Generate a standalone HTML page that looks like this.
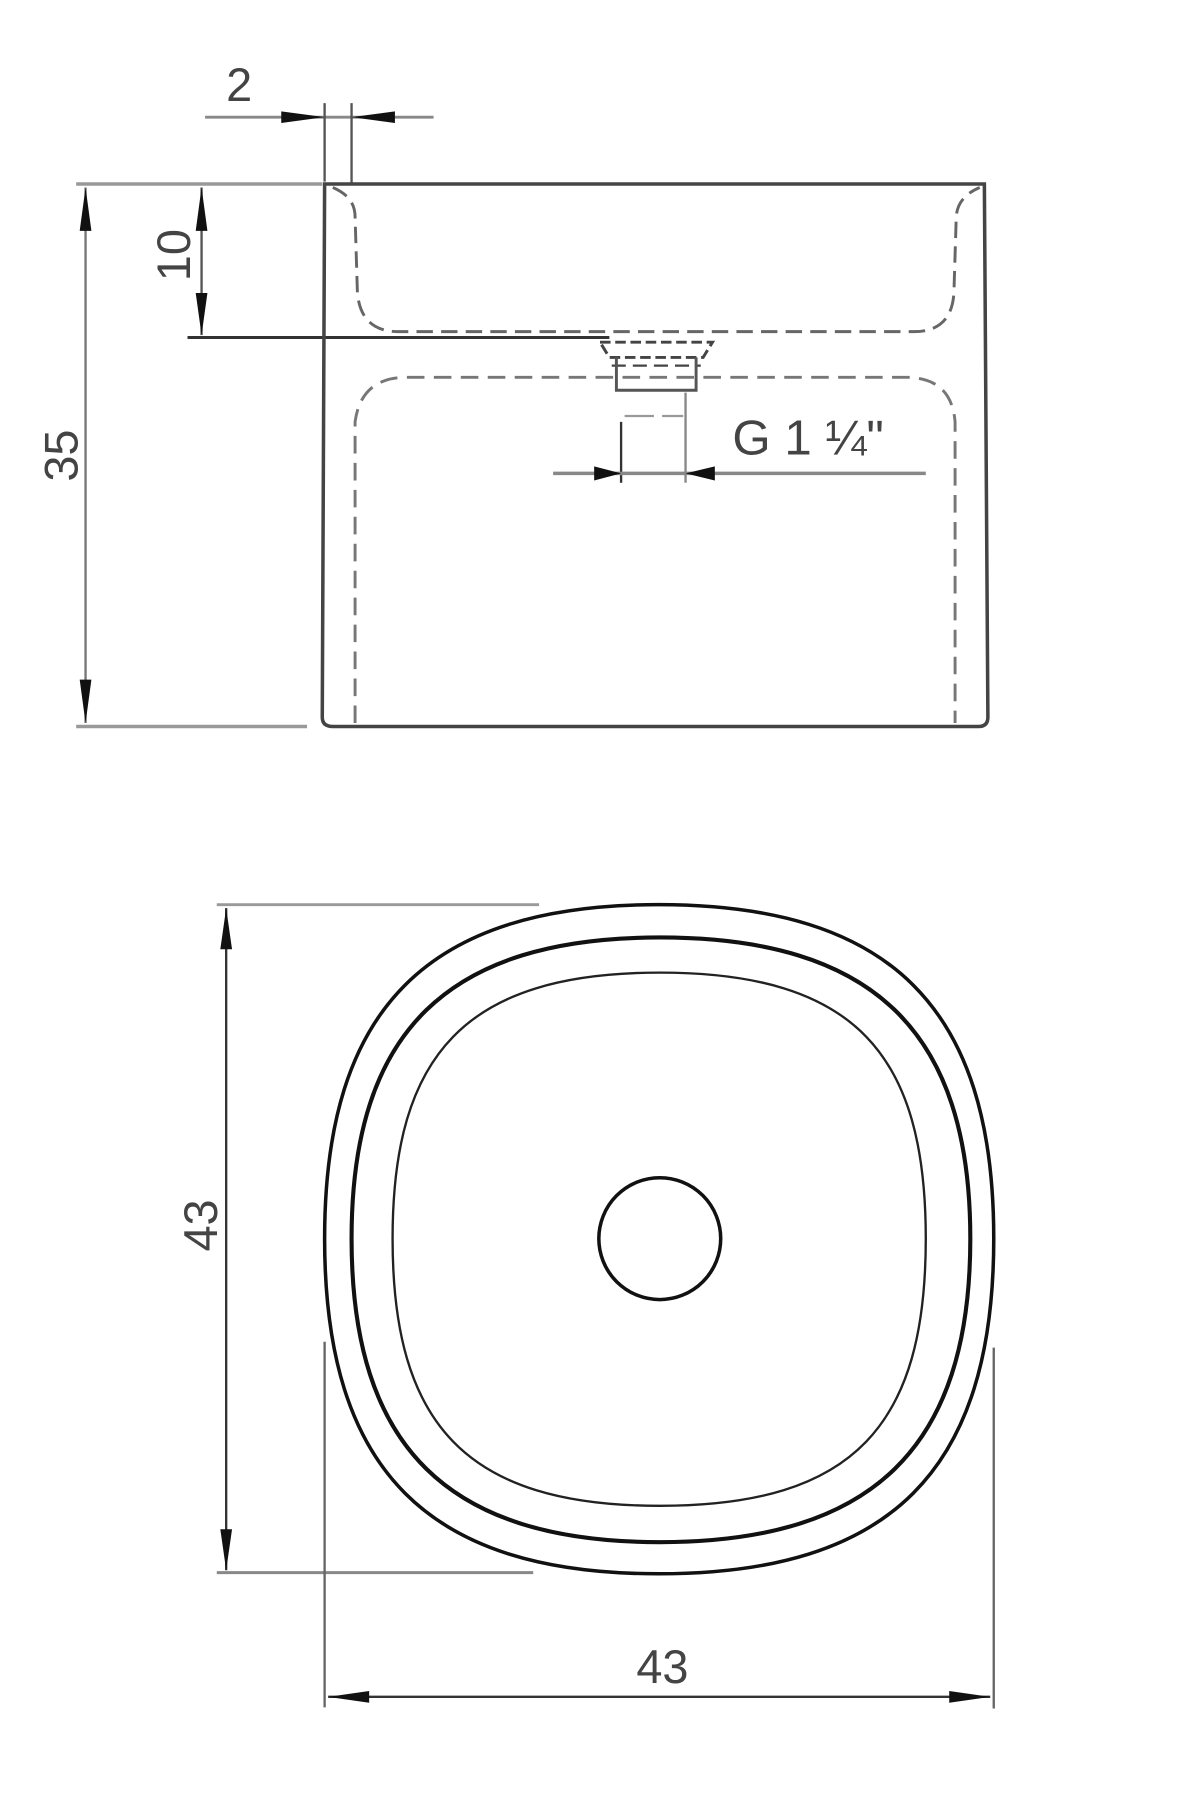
<!DOCTYPE html>
<html><head><style>html,body{margin:0;padding:0;background:#fff}svg{display:block}</style></head>
<body>
<svg width="1200" height="1818" viewBox="0 0 1024 1551.4" preserveAspectRatio="none" xmlns="http://www.w3.org/2000/svg" font-family="Liberation Sans, sans-serif">
<g fill="none" stroke-linecap="butt">
<line x1="175" y1="100" x2="370" y2="100" stroke="#888" stroke-width="2.5"/>
<line x1="277" y1="88" x2="277" y2="155" stroke="#555" stroke-width="2"/>
<line x1="300" y1="88" x2="300" y2="157" stroke="#555" stroke-width="2"/>
<line x1="65" y1="157" x2="275" y2="157" stroke="#999" stroke-width="3"/>
<line x1="65" y1="620" x2="262" y2="620" stroke="#999" stroke-width="3"/>
<line x1="73" y1="160" x2="73" y2="617" stroke="#777" stroke-width="2"/>
<line x1="172" y1="160" x2="172" y2="286" stroke="#555" stroke-width="2"/>
<line x1="160" y1="288" x2="520" y2="288" stroke="#333" stroke-width="2.5"/>
<path d="M277 157 L840 157 L843 612 Q843 620 835 620 L284 620 Q275 620 275 612 Z" stroke="#444" stroke-width="3"/>
<path d="M284 160 Q303 168 303 185 L305 250 Q308 283 340 283 L780 283 Q812 283 814 250 L816 185 Q817 168 836 160" stroke="#666" stroke-width="2.5" stroke-dasharray="14 7"/>
<path d="M512 292 L608 292 L600 305 L520 305 Z" stroke="#444" stroke-width="2.5" stroke-dasharray="9 4"/>
<path d="M522 312 L598 312" stroke="#444" stroke-width="2" stroke-dasharray="12 6"/>
<path d="M526 305 L526 333 L594 333 L594 305" stroke="#555" stroke-width="2.5"/>
<path d="M303 617 L303 360 Q308 323 345 322 L775 322 Q812 323 815 360 L815 617" stroke="#777" stroke-width="2.5" stroke-dasharray="15 8"/>
<line x1="530" y1="360" x2="530" y2="412" stroke="#333" stroke-width="2"/>
<line x1="585" y1="335" x2="585" y2="412" stroke="#888" stroke-width="2"/>
<line x1="533" y1="355" x2="558" y2="355" stroke="#999" stroke-width="2"/>
<line x1="565" y1="355" x2="583" y2="355" stroke="#999" stroke-width="2"/>
<line x1="472" y1="404" x2="790" y2="404" stroke="#888" stroke-width="3"/>
<path d="M562 772 C760 772 848 860 848 1057 C848 1255 760 1343 562 1343 C365 1343 277 1255 277 1057 C277 860 365 772 562 772 Z" stroke="#111" stroke-width="3"/>
<path d="M563 800 C745 800 828 880 828 1057 C828 1235 745 1316 563 1316 C382 1316 300 1235 300 1057 C300 880 382 800 563 800 Z" stroke="#111" stroke-width="3.5"/>
<path d="M563 830 C730 830 790 900 790 1057 C790 1215 730 1285 563 1285 C397 1285 335 1215 335 1057 C335 900 397 830 563 830 Z" stroke="#222" stroke-width="2"/>
<circle cx="563" cy="1057" r="52" stroke="#111" stroke-width="3"/>
<line x1="185" y1="772" x2="460" y2="772" stroke="#999" stroke-width="2.5"/>
<line x1="185" y1="1342" x2="455" y2="1342" stroke="#888" stroke-width="2.5"/>
<line x1="193" y1="775" x2="193" y2="1340" stroke="#333" stroke-width="2"/>
<line x1="277" y1="1145" x2="277" y2="1457" stroke="#666" stroke-width="2"/>
<line x1="848" y1="1150" x2="848" y2="1458" stroke="#666" stroke-width="2"/>
<line x1="280" y1="1448" x2="845" y2="1448" stroke="#333" stroke-width="2"/>
</g>
<g fill="#111">
<polygon points="240,95 277,100 240,105"/>
<polygon points="337,95 300,100 337,105"/>
<polygon points="68,197 73,160 78,197"/>
<polygon points="68,580 73,617 78,580"/>
<polygon points="167,197 172,160 177,197"/>
<polygon points="167,250 172,286 177,250"/>
<polygon points="507,398 530,404 507,410"/>
<polygon points="610,398 585,404 610,410"/>
<polygon points="188,810 193,775 198,810"/>
<polygon points="188,1305 193,1340 198,1305"/>
<polygon points="315,1443 280,1448 315,1453"/>
<polygon points="810,1443 845,1448 810,1453"/>
</g>
<g fill="#444" font-size="40">
<text x="193" y="86">2</text>
<text transform="translate(162,240) rotate(-90)">10</text>
<text transform="translate(66,411) rotate(-90)">35</text>
<text x="625" y="388" font-size="42">G 1 ¼"</text>
<text transform="translate(185,1068) rotate(-90)">43</text>
<text x="543" y="1436">43</text>
</g>
</svg>
</body></html>
